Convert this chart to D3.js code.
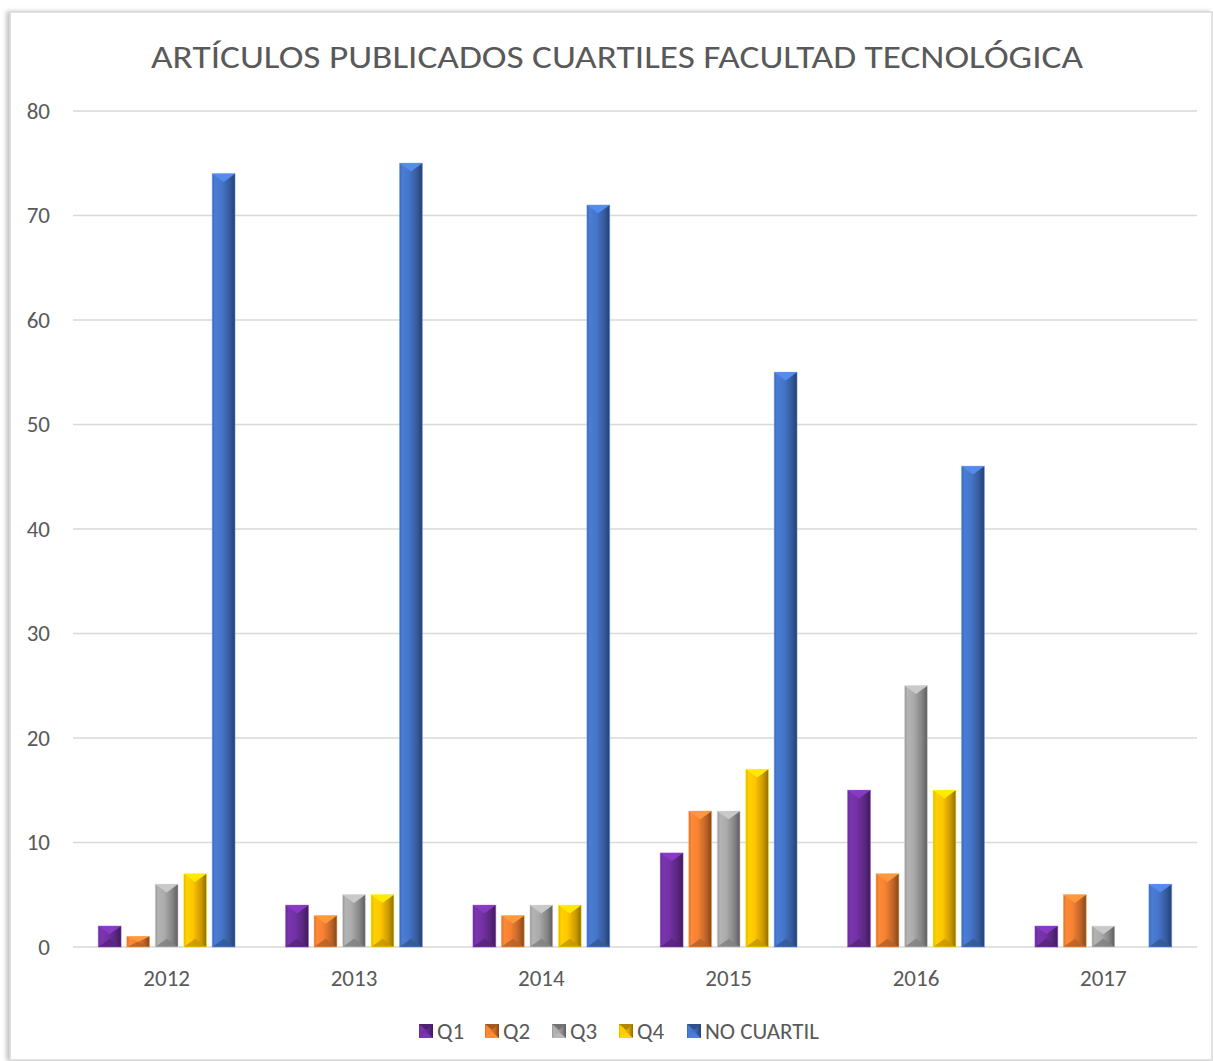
<!DOCTYPE html>
<html>
<head>
<meta charset="utf-8">
<script src="https://cdn.jsdelivr.net/npm/d3@7"></script>
<style>
  body { margin: 0; background: #fff; }
  svg text { font-family: Carlito, "Liberation Sans", "DejaVu Sans", sans-serif; fill: #595959; }
</style>
</head>
<body>
<div id="chart"></div>
<script>
// data
var years = ['2012', '2013', '2014', '2015', '2016', '2017'];
var seriesNames = ['Q1', 'Q2', 'Q3', 'Q4', 'NO CUARTIL'];
var q1 = [2, 4, 4, 9, 15, 2];
var q2 = [1, 3, 3, 13, 7, 5];
var q3 = [6, 5, 4, 13, 25, 2];
var q4 = [7, 5, 4, 17, 15, 0];
var noCuartil = [74, 75, 71, 55, 46, 6];
var yTicks = [0, 10, 20, 30, 40, 50, 60, 70, 80];
var colors = ['#7030A0', '#ED7D31', '#A5A5A5', '#FFC000', '#4472C4'];

var allSeries = [q1, q2, q3, q4, noCuartil];

var svgWidth = 1213, svgHeight = 1061;
var margin = { top: 111, left: 73, right: 16, bottom: 114 };
var chartWidth = svgWidth - margin.left - margin.right;
var chartHeight = svgHeight - margin.top - margin.bottom;

var svg = d3.select('#chart').append('svg')
  .attr('width', svgWidth)
  .attr('height', svgHeight);

var defs = svg.append('defs');

// bevel gradients, one per series
colors.forEach(function(c, i) {
  var base = d3.color(c);
  var g = defs.append('linearGradient')
    .attr('id', 'grad' + i)
    .attr('x1', '0%').attr('x2', '100%').attr('y1', '0%').attr('y2', '0%');
  g.append('stop').attr('offset', '0%').attr('stop-color', base.darker(0.3));
  g.append('stop').attr('offset', '12%').attr('stop-color', base.brighter(0.25));
  g.append('stop').attr('offset', '40%').attr('stop-color', base.brighter(0.1));
  g.append('stop').attr('offset', '75%').attr('stop-color', base.darker(0.6));
  g.append('stop').attr('offset', '100%').attr('stop-color', base.darker(1.6));
});

var shadow = defs.append('filter').attr('id', 'shadow')
  .attr('x', '-5%').attr('y', '-5%').attr('width', '110%').attr('height', '110%');
shadow.append('feDropShadow').attr('dx', -3).attr('dy', 0).attr('stdDeviation', 2)
  .attr('flood-color', '#999').attr('flood-opacity', 0.6);

// outer chart frame
svg.append('rect')
  .attr('x', 10).attr('y', 12)
  .attr('width', svgWidth - 11).attr('height', svgHeight - 13)
  .attr('fill', '#fff')
  .attr('stroke', '#d9d9d9')
  .attr('stroke-width', 1.5)
  .attr('filter', 'url(#shadow)');

// title
svg.append('text')
  .attr('x', 617).attr('y', 68)
  .attr('text-anchor', 'middle')
  .attr('font-size', 33)
  .attr('textLength', 932)
  .attr('lengthAdjust', 'spacingAndGlyphs')
  .text('ARTÍCULOS PUBLICADOS CUARTILES FACULTAD TECNOLÓGICA');

var chartGroup = svg.append('g')
  .attr('transform', `translate(${margin.left}, ${margin.top})`);

var yScale = d3.scaleLinear().domain([0, 80]).range([chartHeight, 0]);

var x0 = d3.scaleBand().domain(years).range([0, chartWidth]).paddingInner(0.27).paddingOuter(0.135);
var x1 = d3.scaleBand().domain(seriesNames).range([0, x0.bandwidth()]).paddingInner(0.2).paddingOuter(0);

// gridlines
chartGroup.append('g')
  .selectAll('line')
  .data(yTicks)
  .enter()
  .append('line')
  .attr('x1', 0).attr('x2', chartWidth)
  .attr('y1', d => yScale(d)).attr('y2', d => yScale(d))
  .attr('stroke', '#d9d9d9')
  .attr('stroke-width', 1.3);

// y axis labels
var leftAxis = d3.axisLeft(yScale).tickValues(yTicks).tickSize(0).tickPadding(23);
var yAxis = chartGroup.append('g').call(leftAxis);
yAxis.select('.domain').remove();
yAxis.selectAll('text').attr('font-size', 23).attr('fill', '#595959').attr('font-family', null);

// x axis labels
var bottomAxis = d3.axisBottom(x0).tickSize(0).tickPadding(23);
var xAxis = chartGroup.append('g')
  .attr('transform', `translate(0, ${chartHeight})`)
  .call(bottomAxis);
xAxis.select('.domain').remove();
xAxis.selectAll('text').attr('font-size', 23).attr('fill', '#595959').attr('font-family', null);

// bars
var barData = [];
years.forEach(function(yr, i) {
  seriesNames.forEach(function(s, j) {
    barData.push({ year: yr, series: s, idx: j, value: allSeries[j][i] });
  });
});

var bars = chartGroup.selectAll('.bar')
  .data(barData.filter(d => d.value > 0))
  .enter()
  .append('g')
  .attr('class', 'bar')
  .attr('transform', d => `translate(${x0(d.year) + x1(d.series)}, 0)`);

bars.each(function(d) {
  var g = d3.select(this);
  var w = x1.bandwidth();
  var top = yScale(d.value);
  var bot = yScale(0);
  var h = bot - top;
  var bev = Math.min(w * 0.36, h / 2);
  var base = d3.color(colors[d.idx]);

  g.append('rect')
    .attr('x', 0).attr('y', top)
    .attr('width', w).attr('height', h)
    .attr('fill', 'url(#grad' + d.idx + ')');

  // top bevel (light)
  g.append('polygon')
    .attr('points', `0,${top} ${w},${top} ${w / 2},${top + bev}`)
    .attr('fill', base.brighter(0.55));

  // bottom bevel (dark)
  g.append('polygon')
    .attr('points', `0,${bot} ${w},${bot} ${w / 2},${bot - bev}`)
    .attr('fill', base.darker(0.7))
    .attr('opacity', 0.85);

  g.append('rect')
    .attr('x', 0).attr('y', top)
    .attr('width', w).attr('height', h)
    .attr('fill', 'none')
    .attr('stroke', base.brighter(0.8))
    .attr('stroke-opacity', 0.5)
    .attr('stroke-width', 1);
});

// legend
var legendX = [419, 485, 552, 619, 687];
var legend = svg.append('g').attr('transform', 'translate(0, 1031)');
seriesNames.forEach(function(s, i) {
  var base = d3.color(colors[i]);
  var lg = legend.append('g').attr('transform', `translate(${legendX[i]}, 0)`);
  lg.append('rect').attr('x', 0).attr('y', -7).attr('width', 14).attr('height', 14)
    .attr('fill', 'url(#grad' + i + ')');
  lg.append('polygon').attr('points', '0,-7 14,-7 7,-1')
    .attr('fill', base.darker(1));
  lg.append('polygon').attr('points', '0,7 14,7 7,1')
    .attr('fill', base.brighter(0.3));
  lg.append('text')
    .attr('x', 18).attr('y', 8)
    .attr('font-size', 23)
    .text(s);
});
</script>
</body>
</html>
